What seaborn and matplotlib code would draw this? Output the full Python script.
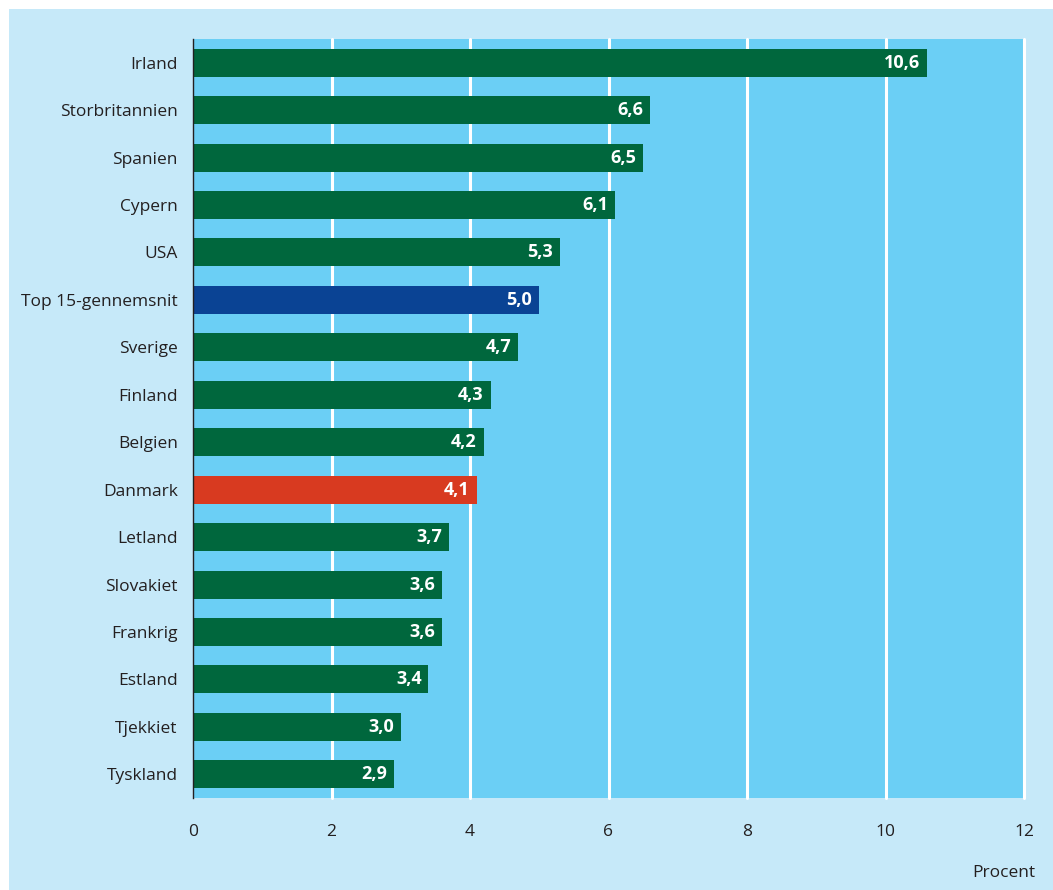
import matplotlib
matplotlib.use("Agg")
import matplotlib.pyplot as plt
from matplotlib.patches import Rectangle
import seaborn as sns
import pandas as pd

countries = ["Irland", "Storbritannien", "Spanien", "Cypern", "USA",
             "Top 15-gennemsnit", "Sverige", "Finland", "Belgien", "Danmark",
             "Letland", "Slovakiet", "Frankrig", "Estland", "Tjekkiet", "Tyskland"]
values = [10.6, 6.6, 6.5, 6.1, 5.3, 5.0, 4.7, 4.3, 4.2, 4.1,
          3.7, 3.6, 3.6, 3.4, 3.0, 2.9]
ticks = [0, 2, 4, 6, 8, 10, 12]

GREEN = "#00673d"
BLUE = "#0a4394"
RED = "#d83a20"
PANEL = "#6bcff5"
BACK = "#c6e9f9"
TEXT = "#231f20"

colors = [BLUE if c == "Top 15-gennemsnit" else RED if c == "Danmark" else GREEN
          for c in countries]

df = pd.DataFrame({"land": countries, "pct": values})

sns.set_theme(style="white")
plt.rcParams["font.family"] = ["Open Sans", "DejaVu Sans"]

fig = plt.figure(figsize=(10.53, 8.90), dpi=100)
fig.patch.set_facecolor("white")
fig.patches.append(Rectangle((9 / 1053, 0), 1 - 9 / 1053, 1 - 9 / 890,
                             transform=fig.transFigure, facecolor=BACK,
                             edgecolor="none", zorder=-10))

ax = fig.add_axes([193 / 1053, 1 - 798 / 890, (1024 - 193) / 1053, (798 - 39) / 890])
ax.set_facecolor(PANEL)

sns.barplot(data=df, y="land", x="pct", hue="land", palette=colors,
            order=countries, orient="h", width=0.59, saturation=1,
            edgecolor="none", linewidth=0,
            legend=False, ax=ax, zorder=3)

ax.set_xlim(0, 12)
ax.set_ylim(15.5, -0.5)
ax.set_xticks(ticks)
ax.set_xticklabels([str(t) for t in ticks], fontsize=12.5, color=TEXT)
ax.tick_params(axis="y", labelsize=12.5, colors=TEXT, length=0, pad=11)
ax.tick_params(axis="x", length=0, pad=19)
ax.set_xlabel("")
ax.set_ylabel("")

for t in ticks[1:]:
    ax.axvline(t, color="white", lw=2.2, zorder=1, clip_on=False)

for s in ["top", "right", "bottom"]:
    ax.spines[s].set_visible(False)
ax.spines["left"].set_color(TEXT)
ax.spines["left"].set_linewidth(1.0)
ax.spines["left"].set_zorder(5)

for i, v in enumerate(values):
    ax.text(v - 0.1, i, f"{v:.1f}".replace(".", ","), ha="right", va="center",
            color="white", fontsize=13, fontweight="bold", zorder=6)

fig.text(1035 / 1053, 1 - 873 / 890, "Procent", ha="right", va="center",
         fontsize=12.5, color=TEXT)

fig.savefig("out.png", dpi=100, facecolor=fig.get_facecolor())
